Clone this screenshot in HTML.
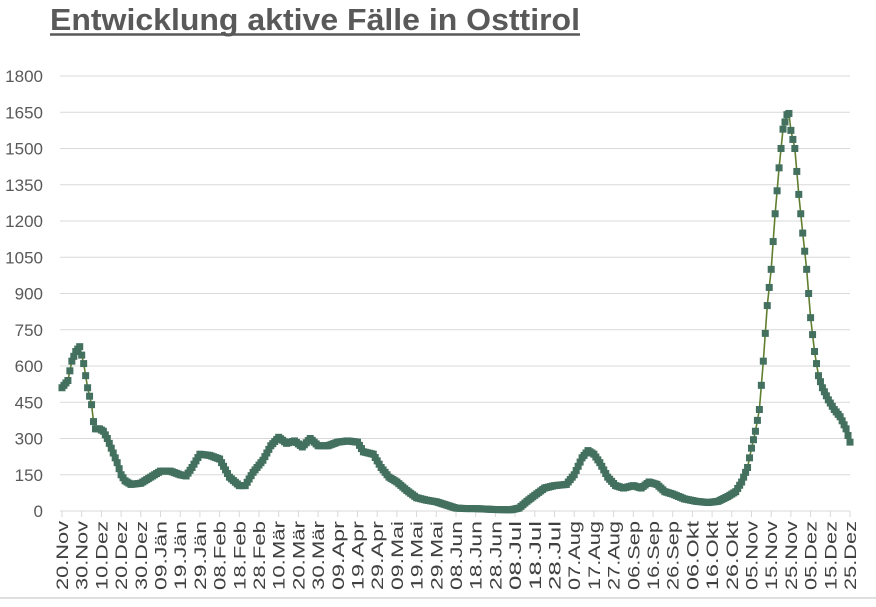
<!DOCTYPE html>
<html><head><meta charset="utf-8"><style>
body{margin:0;background:#fff;width:876px;height:602px;overflow:hidden;font-family:"Liberation Sans",sans-serif}
</style></head><body>
<svg id="s" width="876" height="602" xmlns="http://www.w3.org/2000/svg" font-family="Liberation Sans, sans-serif">
<text x="50" y="30" font-size="31" font-weight="bold" fill="#595959" textLength="530" lengthAdjust="spacingAndGlyphs">Entwicklung aktive Fälle in Osttirol</text>
<line x1="50" y1="34.5" x2="580" y2="34.5" stroke="#595959" stroke-width="2.5"/>
<line x1="0" y1="598" x2="876" y2="598" stroke="#bfbfbf" stroke-width="1"/>
<g id="g"></g>
</svg>
<script>
const NS="http://www.w3.org/2000/svg",g=document.getElementById('g');
function el(t,a,txt){const e=document.createElementNS(NS,t);for(const k in a)e.setAttribute(k,a[k]);if(txt!==undefined)e.textContent=txt;g.appendChild(e);return e;}
const x0=62,dx=1.97,yb=511,sc=435/1800;
const X=d=>x0+d*dx,Y=v=>yb-v*sc;
for(let v=0;v<=1800;v+=150){const y=Y(v);if(v>0)el('line',{x1:60,x2:850,y1:y,y2:y,stroke:'#d9d9d9','stroke-width':1});
el('text',{x:43,y:y+6,'font-size':17,fill:'#595959','text-anchor':'end'},v);}
el('line',{x1:60,x2:850,y1:yb,y2:yb,stroke:'#d9d9d9'});
const labs=["20.Nov","30.Nov","10.Dez","20.Dez","30.Dez","09.Jän","19.Jän","29.Jän","08.Feb","18.Feb","28.Feb","10.Mär","20.Mär","30.Mär","09.Apr","19.Apr","29.Apr","09.Mai","19.Mai","29.Mai","08.Jun","18.Jun","28.Jun","08.Jul","18.Jul","28.Jul","07.Aug","17.Aug","27.Aug","06.Sep","16.Sep","26.Sep","06.Okt","16.Okt","26.Okt","05.Nov","15.Nov","25.Nov","05.Dez","15.Dez","25.Dez"];
labs.forEach((l,i)=>{const x=X(i*10);el('line',{x1:x,x2:x,y1:yb,y2:yb+6,stroke:'#d9d9d9'});
const w=Math.round(l.length*11.5);
el('text',{x:0,y:0,'font-size':16.5,fill:'#404040','text-anchor':'end',textLength:w,lengthAdjust:'spacingAndGlyphs',transform:`translate(${x+6},${yb+10}) rotate(-90)`},l);});
const k=[[0,510],[1,520],[3,540],[5,620],[7,660],[9,680],[11,610],[13,510],[15,440],[16,370],[17,340],[19,340],[21,330],[23,300],[26,240],[28,200],[30,150],[32,125],[35,110],[40,115],[45,140],[50,165],[55,165],[60,150],[63,145],[66,180],[70,235],[75,230],[80,215],[85,140],[90,105],[93,105],[97,160],[102,210],[106,270],[110,305],[114,280],[118,290],[122,265],[126,300],[130,270],[135,270],[140,285],[145,290],[150,285],[153,245],[158,235],[162,180],[166,140],[170,120],[175,85],[180,55],[185,45],[190,38],[195,25],[200,12],[205,10],[210,10],[220,6],[228,5],[232,12],[236,40],[240,65],[245,95],[250,105],[256,110],[260,150],[264,220],[267,250],[270,235],[273,200],[277,140],[281,105],[285,95],[290,105],[294,95],[298,120],[302,110],[306,80],[310,70],[316,50],[322,40],[328,35],[333,40],[338,60],[342,80],[345,120],[348,180],[350,260],[352,330],[354,420],[356,620],[358,850],[360,1000],[362,1230],[364,1420],[366,1580],[368,1640],[369,1645],[370,1575],[372,1500],[374,1310],[376,1150],[378,1000],[380,800],[382,660],[384,560],[386,510],[389,460],[392,420],[395,390],[398,340],[400,285]];
function val(d){for(let i=0;i<k.length-1;i++){if(d>=k[i][0]&&d<=k[i+1][0]){const t=(d-k[i][0])/(k[i+1][0]-k[i][0]);return k[i][1]+t*(k[i+1][1]-k[i][1]);}}return 0;}
let pts=[];for(let d=0;d<=400;d++){let v=val(d);pts.push([X(d),Y(v)]);}
el('polyline',{points:pts.map(p=>p.join(',')).join(' '),fill:'none',stroke:'#5f7f2e','stroke-width':1.6});
pts.forEach(p=>el('rect',{x:p[0]-3.5,y:p[1]-3.5,width:7,height:7,fill:'#43705f'}));
</script>
</body></html>
